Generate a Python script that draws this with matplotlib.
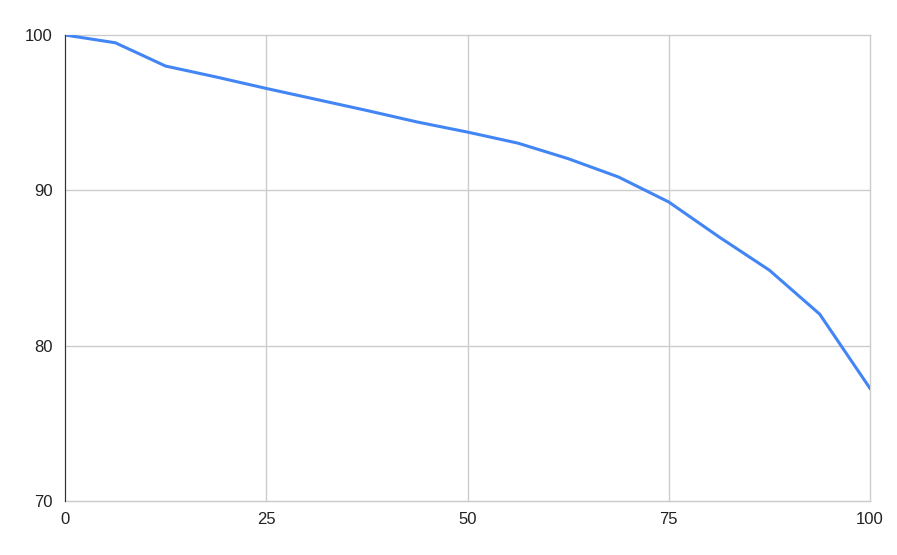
import matplotlib
matplotlib.use("Agg")
import matplotlib.pyplot as plt

x_values = [0, 6.25, 12.5, 18.75, 25, 31.25, 37.5, 43.75, 50, 56.25, 62.5, 68.75, 75, 81.25, 87.5, 93.75, 100]
y_values = [100, 99.5, 98.0, 97.3, 96.56, 95.85, 95.14, 94.4, 93.75, 93.04, 92.04, 90.86, 89.25, 87.0, 84.86, 82.03, 77.25]
x_ticks = [0, 25, 50, 75, 100]
y_ticks = [70, 80, 90, 100]

plt.rcParams['font.family'] = ['Liberation Sans', 'DejaVu Sans']
fig = plt.figure(figsize=(8.97, 5.55), dpi=100)
ax = fig.add_axes([65/897, 1-501/555, (870-65)/897, (501-35)/555])
ax.plot(x_values, y_values, color='#4285F4', linewidth=2.2, solid_joinstyle='round', zorder=3)
ax.set_xlim(0, 100)
ax.set_ylim(70, 100)
ax.set_xticks(x_ticks)
ax.set_yticks(y_ticks)
ax.set_xticklabels([str(t) for t in x_ticks])
ax.set_yticklabels([str(t) for t in y_ticks])
ax.grid(True, color='#cccccc', linewidth=1)
ax.set_axisbelow(True)
for gl in ax.get_xgridlines() + ax.get_ygridlines():
    gl.set_clip_on(False)
for s in ['top', 'right']:
    ax.spines[s].set_visible(False)
ax.spines['bottom'].set_color('#cccccc')
ax.spines['left'].set_color('#333333')
ax.spines['left'].set_zorder(4)
ax.tick_params(length=0, labelsize=12, labelcolor='#222222')
ax.tick_params(axis='y', pad=9)
ax.tick_params(axis='x', pad=8)
fig.savefig('out.png', dpi=100)
